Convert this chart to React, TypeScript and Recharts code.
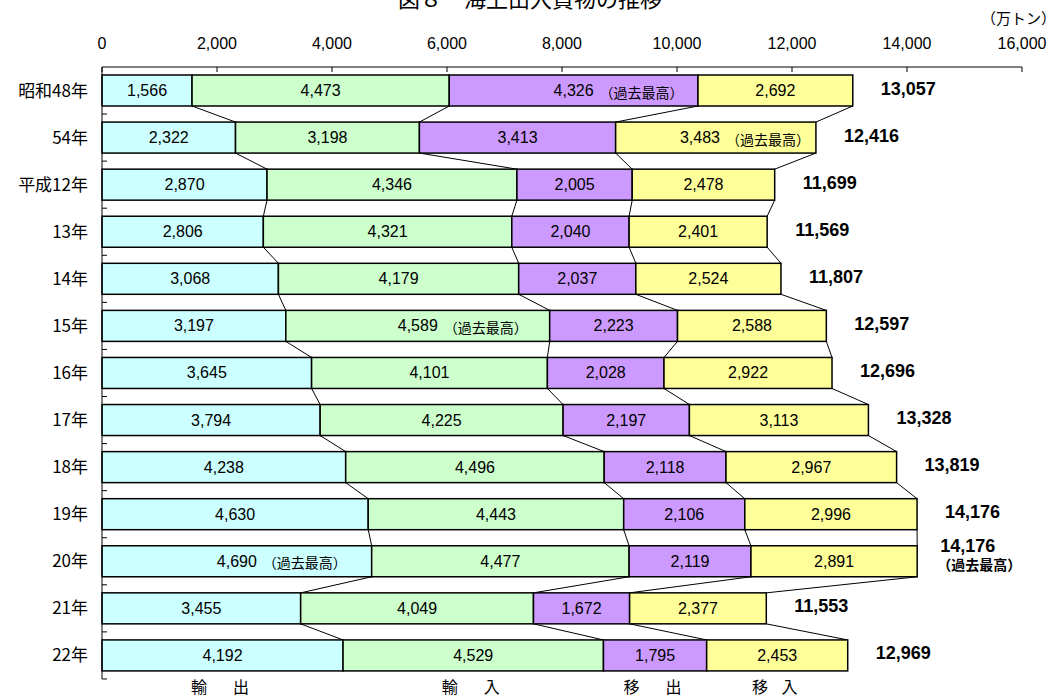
import { BarChart, Bar, XAxis, YAxis } from "recharts";

const years = [
  "昭和48年", "54年", "平成12年", "13年", "14年", "15年", "16年",
  "17年", "18年", "19年", "20年", "21年", "22年",
];
const exportsOut = [1566, 2322, 2870, 2806, 3068, 3197, 3645, 3794, 4238, 4630, 4690, 3455, 4192];
const importsIn = [4473, 3198, 4346, 4321, 4179, 4589, 4101, 4225, 4496, 4443, 4477, 4049, 4529];
const domesticOut = [4326, 3413, 2005, 2040, 2037, 2223, 2028, 2197, 2118, 2106, 2119, 1672, 1795];
const domesticIn = [2692, 3483, 2478, 2401, 2524, 2588, 2922, 3113, 2967, 2996, 2891, 2377, 2453];
const totals = ["13,057", "12,416", "11,699", "11,569", "11,807", "12,597", "12,696", "13,328", "13,819", "14,176", "14,176", "11,553", "12,969"];
const xTicks = [0, 2000, 4000, 6000, 8000, 10000, 12000, 14000, 16000];

const seriesKeys = ["exportsOut", "importsIn", "domesticOut", "domesticIn"];
const seriesNames = ["輸　出", "輸　入", "移　出", "移 入"];
const seriesValues = [exportsOut, importsIn, domesticOut, domesticIn];
const seriesColors = ["#CCFFFF", "#CCFFCC", "#CC99FF", "#FFFF99"];

const recordNote = "（過去最高）";
// [year, series index] of the record cells
const recordCells: [string, number][] = [
  ["昭和48年", 2],
  ["54年", 3],
  ["15年", 1],
  ["20年", 0],
];
const recordTotal = "20年";

const data = years.map((year, i) => ({
  year,
  exportsOut: exportsOut[i],
  importsIn: importsIn[i],
  domesticOut: domesticOut[i],
  domesticIn: domesticIn[i],
}));

const W = 1061;
const H = 698;
const MARGIN = { top: 0, right: 39, bottom: 19, left: 0 };
const X_AXIS_H = 67;
const Y_AXIS_W = 102;
const PLOT_H = H - MARGIN.top - X_AXIS_H - MARGIN.bottom;
const BAND = PLOT_H / years.length;

const FONT = "'Liberation Sans', Arial, 'Noto Sans CJK JP', sans-serif";
const JP = "'Noto Sans CJK JP', sans-serif";

function cumulative(si: number, idx: number) {
  let s = 0;
  for (let k = 0; k < si; k++) s += seriesValues[k][idx];
  return s;
}

function makeShape(si: number) {
  return (props: any) => {
    const { x, y, width, height, index } = props;
    const v = seriesValues[si][index];
    const start = cumulative(si, index);
    const k = width / v;
    const x0 = x - start * k;
    const right = x + width;
    const cy = y + height / 2;
    const hasNext = index < years.length - 1;
    const nextEnd = hasNext ? cumulative(si + 1, index + 1) : 0;
    const isRecord = recordCells.some(([yr, s]) => yr === years[index] && s === si);

    let cx = x + width / 2;
    let noteX = 0;
    if (isRecord) {
      const valueHalf = 20;
      const noteW = 80;
      noteX = cx + valueHalf + 6;
      const overflow = noteX + noteW - (right - 10);
      if (overflow > 0) {
        cx -= overflow;
        noteX -= overflow;
      }
    }

    const isTotalRecord = years[index] === recordTotal;

    return (
      <g>
        <rect x={x} y={y} width={width} height={height} fill={seriesColors[si]} stroke="#000" strokeWidth={1.5} />
        {hasNext && (
          <line x1={right} y1={y + height} x2={x0 + nextEnd * k} y2={y + BAND} stroke="#000" strokeWidth={1} />
        )}
        {si === 0 && (
          <line x1={x0} y1={y + height + (BAND - height) / 2} x2={x0 + 5} y2={y + height + (BAND - height) / 2} stroke="#000" strokeWidth={1} />
        )}
        <text x={cx} y={cy} textAnchor="middle" dominantBaseline="central" fontSize={16} fontFamily={FONT} fill="#000">
          {v.toLocaleString("en-US")}
        </text>
        {isRecord && (
          <text x={noteX} y={cy + 1} textAnchor="start" dominantBaseline="central" fontSize={14} fontFamily={JP} fill="#000">
            {recordNote}
          </text>
        )}
        {si === 3 && !isTotalRecord && (
          <text x={right + 28} y={cy - 2} textAnchor="start" dominantBaseline="central" fontSize={18} fontWeight="bold" fontFamily={FONT} fill="#000">
            {totals[index]}
          </text>
        )}
        {si === 3 && isTotalRecord && (
          <g>
            <text x={right + 23} y={cy - 15} textAnchor="start" dominantBaseline="central" fontSize={18} fontWeight="bold" fontFamily={FONT} fill="#000">
              {totals[index]}
            </text>
            <text x={right + 20} y={cy + 3} textAnchor="start" dominantBaseline="central" fontSize={14} fontWeight="bold" fontFamily={JP} fill="#000">
              {recordNote}
            </text>
          </g>
        )}
        {index === years.length - 1 && (
          <text x={x + width / 2} y={y + height + 15} textAnchor="middle" dominantBaseline="central" fontSize={16} fontFamily={JP} fill="#000" letterSpacing={5}>
            {seriesNames[si]}
          </text>
        )}
      </g>
    );
  };
}

export default function App() {
  return (
    <div style={{ position: "absolute", left: 0, top: 0, width: W, height: H, background: "#fff" }}>
      <BarChart width={W} height={H} data={data} layout="vertical" margin={MARGIN} barSize={31}>
        <text x={530} y={7} textAnchor="middle" fontSize={22} fontFamily={JP} fill="#000">
          図８　海上出入貨物の推移
        </text>
        <text x={1056} y={17} textAnchor="end" dominantBaseline="central" fontSize={15} fontFamily={JP} fill="#000">
          （万トン）
        </text>
        <XAxis
          type="number"
          orientation="top"
          domain={[0, 16000]}
          ticks={xTicks}
          height={X_AXIS_H}
          tickFormatter={(v: number) => v.toLocaleString("en-US")}
          tick={{ fill: "#000", fontSize: 16, fontFamily: FONT }}
          axisLine={{ stroke: "#000", strokeWidth: 1 }}
          tickLine={{ stroke: "#000" }}
          tickSize={-5}
          tickMargin={23}
          interval={0}
        />
        <YAxis
          type="category"
          dataKey="year"
          width={Y_AXIS_W}
          tick={{ fill: "#000", fontSize: 17, fontFamily: JP }}
          axisLine={{ stroke: "#000", strokeWidth: 1 }}
          tickLine={false}
          tickMargin={8}
          interval={0}
        />
        {seriesKeys.map((key, si) => (
          <Bar
            key={key}
            dataKey={key}
            name={seriesNames[si]}
            stackId="a"
            fill={seriesColors[si]}
            shape={makeShape(si)}
            isAnimationActive={false}
          />
        ))}
      </BarChart>
    </div>
  );
}
